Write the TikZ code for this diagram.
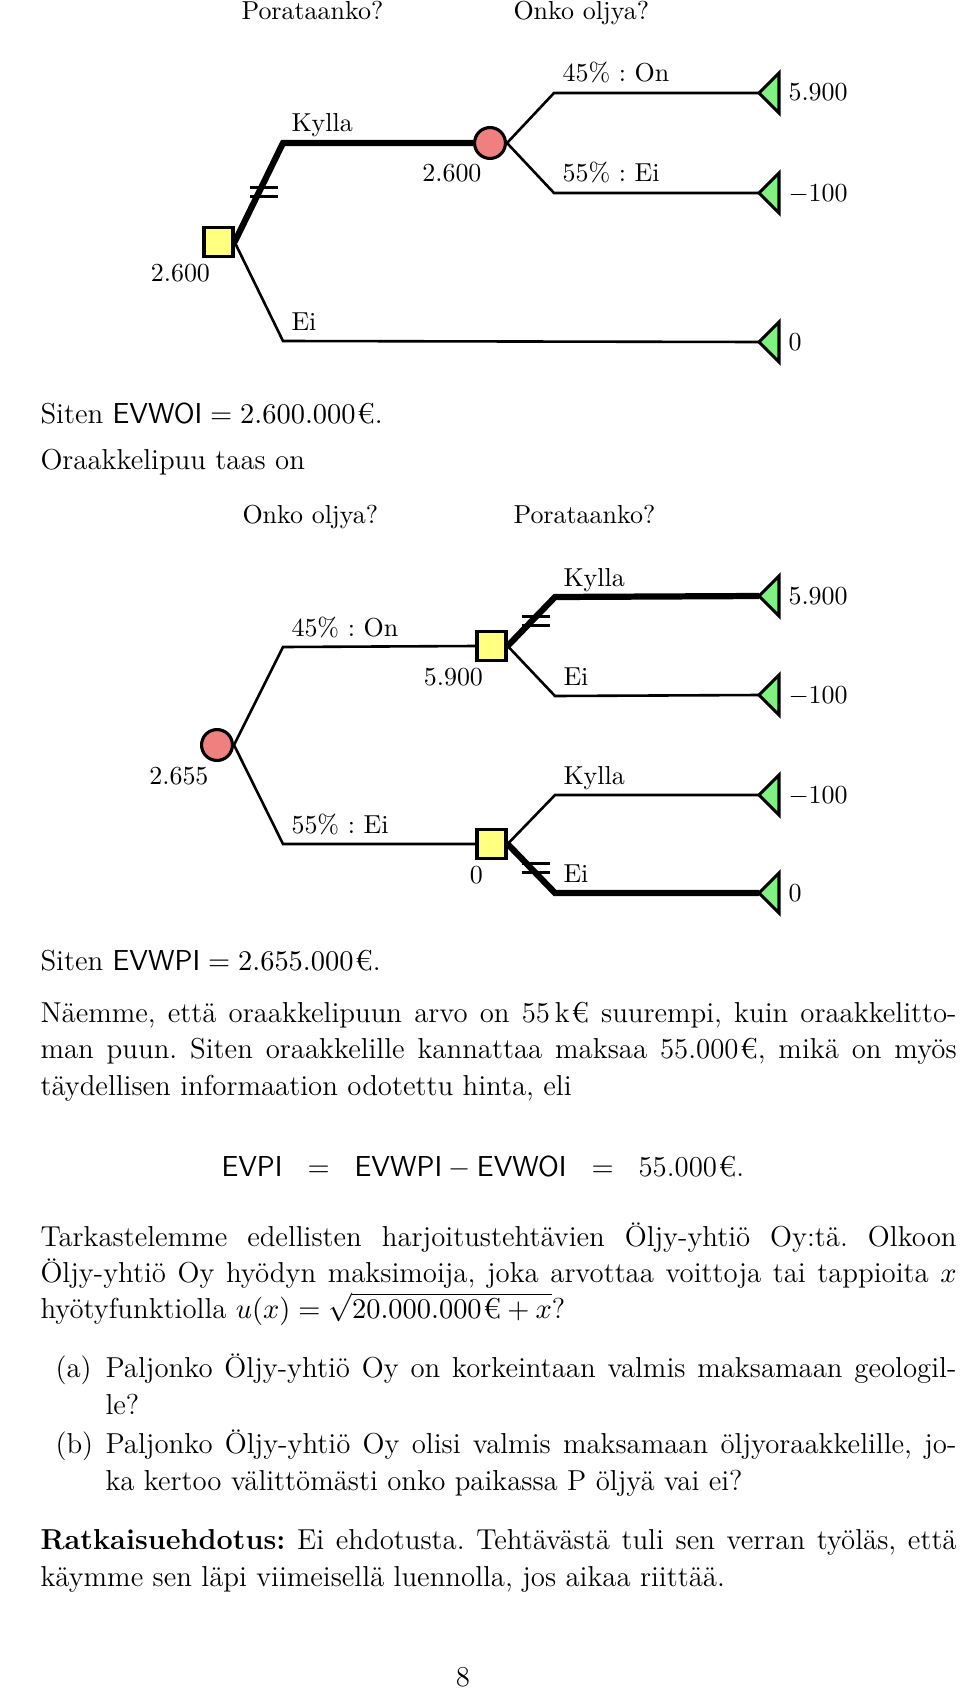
\documentclass[tikz,border=0pt]{standalone}
\usepackage{fontspec}
\usepackage{amsmath}
\usetikzlibrary{calc}
\frenchspacing
\definecolor{DTyellow}{RGB}{255,255,128}
\definecolor{DTred}{RGB}{240,128,128}
\definecolor{DTgreen}{RGB}{128,240,128}
\tikzset{
  decnode/.style={rectangle,draw=black,line width=1.2pt,fill=DTyellow,
                  minimum size=11.2pt,inner sep=0pt},
  chancenode/.style={circle,draw=black,line width=1.2pt,fill=DTred,
                  minimum size=11.9pt,inner sep=0pt},
  br/.style={line width=1pt},
  brc/.style={line width=2.4pt},
  lbl/.style={anchor=base west,inner sep=0pt},
  val/.style={anchor=base east,inner sep=0pt},
  txt/.style={anchor=base west,inner sep=0pt,font=\fontsize{11.1}{13.6}\selectfont}
}
% green end point, tip at the coordinate
\newcommand{\leafmark}[1]{\draw[line width=1.2pt,fill=DTgreen] (#1) -- ++(20,-20) -- ++(0,40) -- cycle;}
% two short strokes across the chosen branch
\newcommand{\cutmark}[2]{\path (#1) -- (#2) coordinate[pos=0.5] (cm);
  \draw[br] ([shift={(-9,-5)}]cm) -- ++(28,0) ([shift={(-9,4)}]cm) -- ++(28,0);}
\newcommand{\jline}[1]{\hbox to 352.7pt{#1}}
\newcommand{\jitem}[1]{\hbox to 327.6pt{#1}}
\newcommand{\eur}{\kern0.6pt€}

\begin{document}
\begin{tikzpicture}[x=0.385pt,y=-0.385pt]
  \fill[white] (0,0) rectangle (960,1693);
  \useasboundingbox (0,0) rectangle (960,1693);

  % first tree: Porataanko? -> Onko oljya?
  \node[lbl] (hp1) at (241,20) {Porataanko?};
  \node[lbl] (ho1) at (513,20) {Onko oljya?};
  \node[decnode] (d1) at (218.5,242) {};
  \node[chancenode] (c1) at (490,143) {};
  \coordinate (k1) at (283,143);
  \coordinate (e1) at (283,341);
  \coordinate (on1) at (554,93);
  \coordinate (ei1) at (554,193);
  \coordinate (l1) at (759,93);
  \coordinate (l2) at (759,193);
  \coordinate (l3) at (759,342);
  \draw[brc] (d1.east) -- (k1) -- (c1.west);
  \draw[br] (d1.east) -- (e1) -- (l3);
  \draw[br] (c1.east) -- (on1) -- (l1);
  \draw[br] (c1.east) -- (ei1) -- (l2);
  \cutmark{d1.east}{k1}
  \leafmark{l1} \leafmark{l2} \leafmark{l3}
  \node[lbl] (tk1) at ([shift={(8,-11)}]k1) {Kylla};
  \node[lbl] (te1) at ([shift={(8,-11)}]e1) {Ei};
  \node[lbl] (ton1) at ([shift={(8,-11)}]on1) {45\% : On};
  \node[lbl] (tei1) at ([shift={(8,-11)}]ei1) {55\% : Ei};
  \node[val] (vd1) at ([shift={(-8,39)}]d1) {2.600};
  \node[val] (vc1) at ([shift={(-8,39)}]c1) {2.600};
  \node[lbl] (v1) at ([shift={(29,8)}]l1) {5.900};
  \node[lbl] (v2) at ([shift={(29,8)}]l2) {$-100$};
  \node[lbl] (v3) at ([shift={(29,8)}]l3) {0};

  \node[txt] (s1) at (40,423) {Siten $\textsf{EVWOI} = 2.600.000$\eur.};
  \node[txt] (s2) at (40,469) {Oraakkelipuu taas on};

  % second tree: Onko oljya? -> Porataanko?
  \node[lbl] (ho2) at (242,523) {Onko oljya?};
  \node[lbl] (hp2) at (513,523) {Porataanko?};
  \node[chancenode] (c2) at (217,745) {};
  \node[decnode] (d2) at (491.5,646) {};
  \node[decnode] (d3) at (491.5,844) {};
  \coordinate (on2) at (283,647);
  \coordinate (ei2) at (283,844);
  \coordinate (k2) at (555,597);
  \coordinate (e2) at (555,696);
  \coordinate (k3) at (555,795);
  \coordinate (e3) at (555,893);
  \coordinate (m1) at (759,596);
  \coordinate (m2) at (759,695);
  \coordinate (m3) at (759,795);
  \coordinate (m4) at (759,893);
  \draw[br] (c2.east) -- (on2) -- (d2.west);
  \draw[br] (c2.east) -- (ei2) -- (d3.west);
  \draw[brc] (d2.east) -- (k2) -- (m1);
  \draw[br] (d2.east) -- (e2) -- (m2);
  \draw[br] (d3.east) -- (k3) -- (m3);
  \draw[brc] (d3.east) -- (e3) -- (m4);
  \cutmark{d2.east}{k2}
  \cutmark{d3.east}{e3}
  \leafmark{m1} \leafmark{m2} \leafmark{m3} \leafmark{m4}
  \node[lbl] (ton2) at ([shift={(8,-11)}]on2) {45\% : On};
  \node[lbl] (tei2) at ([shift={(8,-11)}]ei2) {55\% : Ei};
  \node[lbl] (tk2) at ([shift={(8,-11)}]k2) {Kylla};
  \node[lbl] (te2) at ([shift={(8,-11)}]e2) {Ei};
  \node[lbl] (tk3) at ([shift={(8,-11)}]k3) {Kylla};
  \node[lbl] (te3) at ([shift={(8,-11)}]e3) {Ei};
  \node[val] (vc2) at ([shift={(-8,39)}]c2) {2.655};
  \node[val] (vd2) at ([shift={(-8,39)}]d2) {5.900};
  \node[val] (vd3) at ([shift={(-8,39)}]d3) {0};
  \node[lbl] (w1) at ([shift={(29,8)}]m1) {5.900};
  \node[lbl] (w2) at ([shift={(29,8)}]m2) {$-100$};
  \node[lbl] (w3) at ([shift={(29,8)}]m3) {$-100$};
  \node[lbl] (w4) at ([shift={(29,8)}]m4) {0};

  % text below the trees
  \node[txt] (s3) at (40,970) {Siten $\textsf{EVWPI} = 2.655.000$\eur.};
  \node[txt] (p1) at (40,1022) {\jline{Näemme, että oraakkelipuun arvo on 55\,k\eur{} suurempi, kuin oraakkelitto-}};
  \node[txt] (p2) at (40,1058) {\jline{man puun. Siten oraakkelille kannattaa maksaa 55.000\eur, mikä on myös}};
  \node[txt] (p3) at (40,1095) {täydellisen informaation odotettu hinta, eli};
  \node[txt] (eq) at (221,1176) {\textsf{EVPI}\hspace{9.6pt}$=$\hspace{9.6pt}$\textsf{EVWPI} - \textsf{EVWOI}$\hspace{9.6pt}$=$\hspace{9.6pt}55.000\eur.};
  \node[txt] (q1) at (40,1246) {\jline{Tarkastelemme edellisten harjoitustehtävien Öljy-yhtiö Oy:tä. Olkoon}};
  \node[txt] (q2) at (40,1282) {\jline{Öljy-yhtiö Oy hyödyn maksimoija, joka arvottaa voittoja tai tappioita $x$}};
  \node[txt] (q3) at (40,1318) {hyötyfunktiolla $u(x) = \sqrt{20.000.000\text{\eur} + x}$?};
  \node[txt] (la) at (55,1377) {(a)};
  \node[txt] (qa1) at (105,1377) {\jitem{Paljonko Öljy-yhtiö Oy on korkeintaan valmis maksamaan geologil-}};
  \node[txt] (qa2) at (105,1414) {le?};
  \node[txt] (lb) at (55,1453) {(b)};
  \node[txt] (qb1) at (105,1453) {\jitem{Paljonko Öljy-yhtiö Oy olisi valmis maksamaan öljyoraakkelille, jo-}};
  \node[txt] (qb2) at (105,1490) {ka kertoo välittömästi onko paikassa P öljyä vai ei?};
  \node[txt] (r1) at (40,1549) {\jline{\textbf{Ratkaisuehdotus:} Ei ehdotusta. Tehtävästä tuli sen verran työläs, että}};
  \node[txt] (r2) at (40,1586) {käymme sen läpi viimeisellä luennolla, jos aikaa riittää.};
  \node[txt,anchor=base] (pg) at (463,1686) {8};
\end{tikzpicture}
\end{document}
